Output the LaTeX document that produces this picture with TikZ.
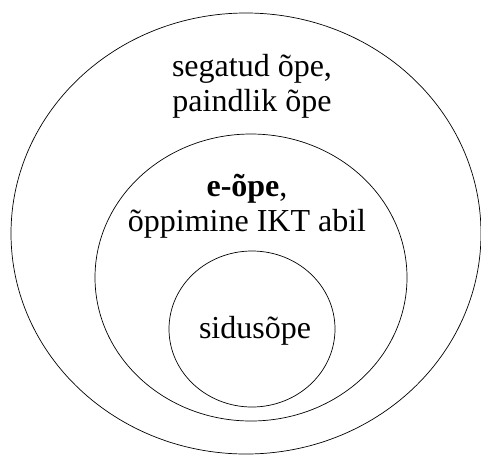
\documentclass[tikz,border=0pt]{standalone}
\usepackage{fontspec}
\setmainfont{Liberation Serif}
\usetikzlibrary{shapes.geometric}

\begin{document}
\begin{tikzpicture}[x=1pt,y=-1pt]
    \tikzstyle{ring}=[ellipse,draw,line width=0.7pt,inner sep=0pt]
    \tikzstyle{label}=[align=center,anchor=base,inner sep=0pt,font=\fontsize{32}{35}\selectfont]
    \useasboundingbox (0,0) rectangle (481,467);
    \node[ring,minimum width=470pt,minimum height=441pt] (outer) at (246,233.5) {};
    \node[ring,minimum width=312pt,minimum height=287pt] (middle) at (251,277.5) {};
    \node[ring,minimum width=166pt,minimum height=156pt] (inner) at (252,329) {};
    \node[label] (mixed) at (252,111.7) {segatud õpe,\\paindlik õpe};
    \node[label] (elearn) at (247,231.7) {\textbf{e-õpe},\\õppimine IKT abil};
    \node[label] (distance) at (255,338) {sidusõpe};
\end{tikzpicture}
\end{document}
